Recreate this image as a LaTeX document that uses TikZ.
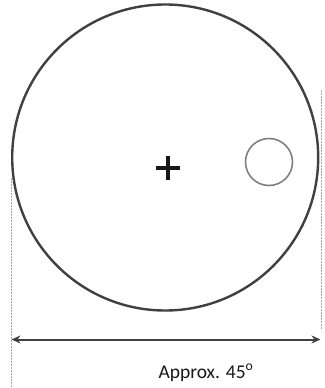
\documentclass[tikz,border=0pt]{standalone}
\usepackage{fontspec}
\setmainfont{Carlito}
\usetikzlibrary{arrows.meta}
\begin{document}
\begin{tikzpicture}[x=1pt,y=-1pt,
  bigc/.style={draw=black!75,line width=2.4pt},
  smallc/.style={draw=black!50,line width=1.6pt},
  guide/.style={draw=black!35,line width=1.5pt,dash pattern=on 1.5pt off 1.5pt},
  dim/.style={draw=black!75,line width=2pt,{Stealth[length=9pt,width=8pt,inset=3pt]}-{Stealth[length=9pt,width=8pt,inset=3pt]}},
  plusbar/.style={draw=black!90,line width=4pt},
  lbl/.style={font=\fontsize{19.5}{22}\selectfont,text=black!90}]
\useasboundingbox (0,0) rectangle (324,388);
\node[bigc,circle,minimum size=306pt,inner sep=0pt] (big) at (165.2,157.5) {};
\node[smallc,circle,minimum size=47pt,inner sep=0pt] (small) at (269,162) {};
\coordinate (plus) at (167.5,167.5);
\draw[plusbar] ([xshift=-12pt]plus) -- ([xshift=12pt]plus);
\draw[plusbar] ([yshift=-12pt]plus) -- ([yshift=12pt]plus);
\coordinate (l1) at (11.7,178);
\coordinate (l2) at (11.7,388);
\coordinate (r1) at (321.7,90);
\coordinate (r2) at (321.7,330);
\draw[guide] (l1) -- (l2);
\draw[guide] (r1) -- (r2);
\coordinate (a1) at (11.5,339.5);
\coordinate (a2) at (320.5,339.5);
\draw[dim] (a1) -- (a2);
\node[lbl] (txt) at (206,373) {Approx. 45\textsuperscript{o}};
\end{tikzpicture}
\end{document}
